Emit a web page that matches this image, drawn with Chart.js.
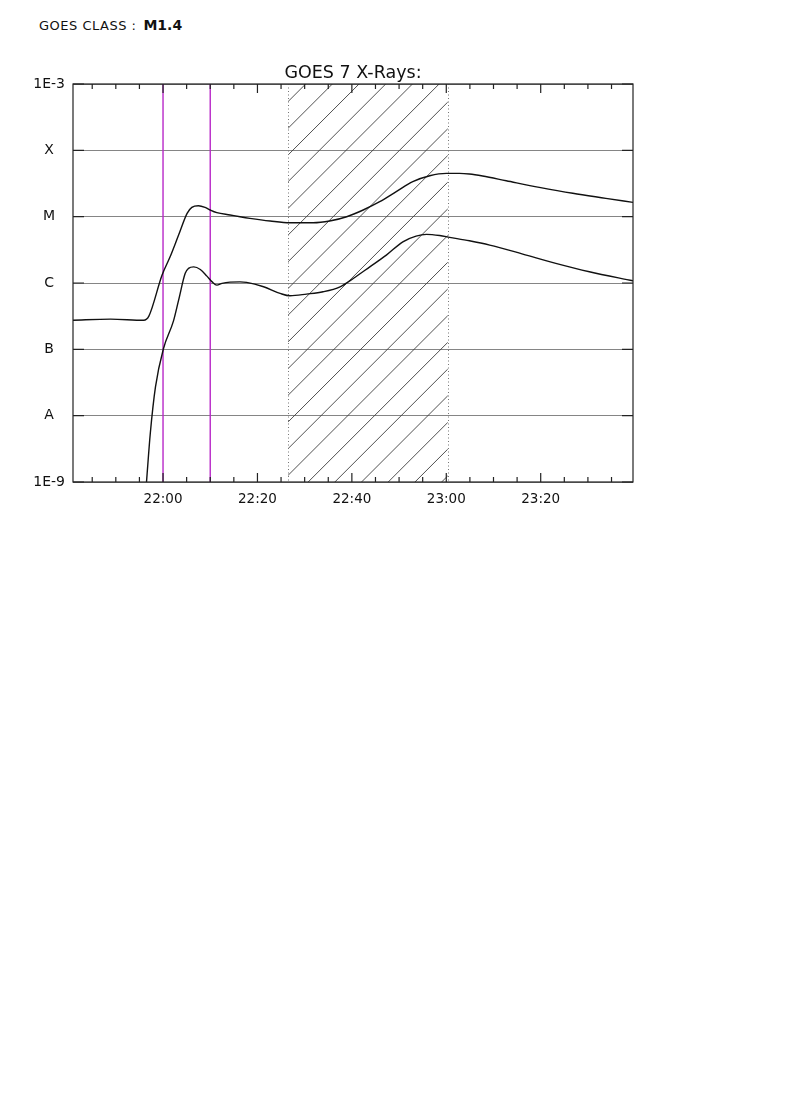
<!DOCTYPE html>
<html><head><meta charset="utf-8">
<script src="https://cdn.jsdelivr.net/npm/chart.js@4.4.0/dist/chart.umd.min.js"></script>
<style>
html,body{margin:0;padding:0;background:#fff;width:790px;height:1118px;overflow:hidden}
#hdr{position:absolute;left:39px;top:17px;font-family:"DejaVu Sans",sans-serif;font-size:13px;line-height:16px;color:#111;white-space:pre;letter-spacing:0.5px}
#hdr b{font-size:14px;margin-left:7px;letter-spacing:0}
#wrap{position:absolute;left:0;top:0;width:790px;height:520px}
</style></head><body>
<div id="hdr">GOES CLASS :<b>M1.4</b></div>
<div id="wrap"><canvas id="c" width="790" height="520"></canvas></div>
<script>
// ---- data (time = minutes after 22:00 UT, flux in W/m^2) ----
const chartTitle = "GOES 7 X-Rays:";
const xTickLabels = ["22:00","22:20","22:40","23:00","23:20"];
const xRange = [-19.07, 99.55];
const yTickValues = [1e-9,1e-8,1e-7,1e-6,1e-5,1e-4,1e-3];
const yTickLabels = ["1E-9","A","B","C","M","X","1E-3"];
const markerTimes = [0, 10];          // magenta vertical lines (22:00, 22:10)
const hatchSpan = [26.5, 60.3];        // hatched interval

const upperT = [-19.07,-11.1,-4.1,-3.0,-0.2,1.5,3.3,5.1,6.1,7.5,8.9,10.0,11.4,14.2,16.3,18.4,22.7,26.9,31.8,35.3,38.9,42.4,45.9,49.4,52.9,56.5,60.0,62.8,64.9,67.7,72.7,79.7,86.8,93.8,99.55];
const upperF = [2.75e-7,2.85e-7,2.75e-7,3.17e-7,1.32e-6,2.48e-6,5.28e-6,1.12e-5,1.38e-5,1.46e-5,1.38e-5,1.26e-5,1.15e-5,1.06e-5,9.96e-6,9.42e-6,8.59e-6,8.09e-6,8.09e-6,8.59e-6,9.96e-6,1.26e-5,1.68e-5,2.38e-5,3.37e-5,4.14e-5,4.50e-5,4.50e-5,4.40e-5,4.10e-5,3.48e-5,2.77e-5,2.25e-5,1.89e-5,1.64e-5];

const lowerT = [-3.5,-2.7,-1.6,0.1,2.2,3.3,4.7,5.4,6.5,7.9,9.3,10.4,11.4,12.5,14.2,16.3,17.7,21.3,24.8,26.9,30.4,33.9,37.5,40.3,43.8,47.3,50.8,53.6,55.8,58.6,60.7,64.9,69.2,76.2,83.2,90.3,99.55];
const lowerF = [1.0e-9,5.38e-9,2.72e-8,1.03e-7,2.66e-7,5.52e-7,1.40e-6,1.66e-6,1.75e-6,1.60e-6,1.27e-6,1.04e-6,9.29e-7,9.86e-7,1.03e-6,1.04e-6,1.02e-6,8.77e-7,6.97e-7,6.41e-7,6.80e-7,7.37e-7,8.77e-7,1.17e-6,1.75e-6,2.63e-6,4.18e-6,5.09e-6,5.40e-6,5.19e-6,4.88e-6,4.33e-6,3.73e-6,2.73e-6,1.98e-6,1.48e-6,1.08e-6];

function toMin(s){const [h,m]=s.split(":").map(Number);return (h-22)*60+m;}
const xTickValues = xTickLabels.map(toMin);
const pts = (t,f)=>t.map((v,i)=>({x:v,y:f[i]}));

const FONT = '"DejaVu Sans", sans-serif';

const decor = {
  id:'decor',
  beforeDatasetsDraw(chart){
    const {ctx, chartArea:a, scales:{x}} = chart;
    const hx1 = x.getPixelForValue(hatchSpan[0]), hx2 = x.getPixelForValue(hatchSpan[1]);
    ctx.save();
    ctx.beginPath(); ctx.rect(hx1, a.top, hx2-hx1, a.bottom-a.top); ctx.clip();
    ctx.strokeStyle = '#3c3c3c'; ctx.lineWidth = 0.9;
    const sp = 26.7;
    let c = hx1 + a.bottom + 20;
    while (c - sp > hx1 + a.top) c -= sp;
    ctx.beginPath();
    for (; c <= hx2 + a.bottom; c += sp) {
      ctx.moveTo(c - a.bottom, a.bottom); ctx.lineTo(c - a.top, a.top);
    }
    ctx.stroke();
    ctx.restore();
    ctx.save();
    ctx.strokeStyle = '#777'; ctx.lineWidth = 1; ctx.setLineDash([1,2.5]);
    [hx1,hx2].forEach(px=>{ctx.beginPath();ctx.moveTo(Math.round(px)+0.5,a.top);ctx.lineTo(Math.round(px)+0.5,a.bottom);ctx.stroke();});
    ctx.restore();
    ctx.save();
    ctx.strokeStyle = '#b828c8'; ctx.lineWidth = 1.4;
    markerTimes.forEach(t=>{const px=x.getPixelForValue(t);ctx.beginPath();ctx.moveTo(px,a.top);ctx.lineTo(px,a.bottom);ctx.stroke();});
    ctx.restore();
  },
  afterDatasetsDraw(chart){
    const {ctx, chartArea:a, scales:{x,y}} = chart;
    ctx.save();
    ctx.strokeStyle = '#222'; ctx.lineWidth = 1.2;
    ctx.strokeRect(a.left, a.top, a.right-a.left, a.bottom-a.top);
    ctx.beginPath();
    for (let t = Math.ceil(xRange[0]/5)*5; t <= xRange[1]; t += 5) {
      const px = x.getPixelForValue(t);
      const L = (t % 20 === 0) ? 9 : 5;
      ctx.moveTo(px, a.bottom); ctx.lineTo(px, a.bottom - L);
      ctx.moveTo(px, a.top); ctx.lineTo(px, a.top + L);
    }
    yTickValues.forEach(v=>{
      const py = y.getPixelForValue(v);
      ctx.moveTo(a.left, py); ctx.lineTo(a.left + 11, py);
      ctx.moveTo(a.right, py); ctx.lineTo(a.right - 11, py);
    });
    ctx.stroke();
    ctx.restore();
  }
};

new Chart(document.getElementById('c'), {
  type: 'scatter',
  data: { datasets: [
    { data: pts(upperT, upperF), showLine: true, borderColor: '#111', borderWidth: 1.4, pointRadius: 0, cubicInterpolationMode: 'monotone', fill: false },
    { data: pts(lowerT, lowerF), showLine: true, borderColor: '#111', borderWidth: 1.4, pointRadius: 0, cubicInterpolationMode: 'monotone', fill: false }
  ]},
  options: {
    responsive: false, animation: false, devicePixelRatio: 1,
    layout: { padding: { left: 0, right: 157, top: 0, bottom: 0 } },
    plugins: {
      legend: { display: false }, tooltip: { enabled: false },
      title: { display: true, text: chartTitle, fullSize: false, color: '#111',
        font: { family: FONT, size: 17.5, weight: 'normal', lineHeight: 1.2 },
        padding: { top: 63, bottom: 0 } }
    },
    scales: {
      x: { type: 'linear', min: xRange[0], max: xRange[1],
        afterBuildTicks: s => { s.ticks = xTickValues.map(v=>({value:v})); },
        afterFit: s => { s.height = 38; },
        grid: { display: false, drawTicks: false }, border: { display: false },
        ticks: { color: '#111', font: { family: FONT, size: 13.5 }, padding: 9, maxRotation: 0,
          callback: (v, i) => xTickLabels[i] } },
      y: { type: 'logarithmic', min: 1e-9, max: 1e-3,
        afterBuildTicks: s => { s.ticks = yTickValues.map(v=>({value:v})); },
        afterFit: s => { s.width = 73; },
        grid: { display: true, drawTicks: false, color: '#858585', lineWidth: 1 }, border: { display: false },
        ticks: { color: '#111', font: { family: FONT, size: 14 }, padding: 8, crossAlign: 'center',
          callback: (v, i) => yTickLabels[i] } }
    }
  },
  plugins: [decor]
});
</script>
</body></html>
